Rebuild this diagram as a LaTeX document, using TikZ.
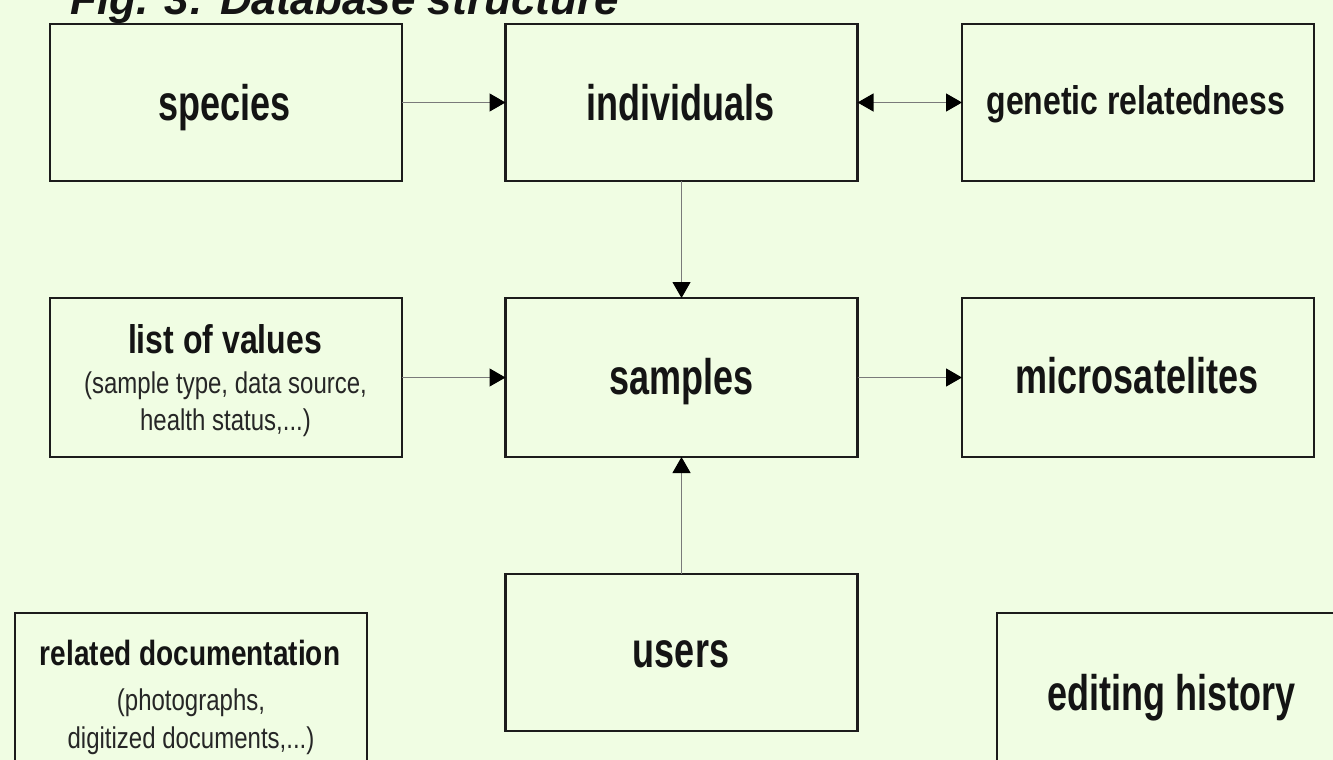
\documentclass[tikz,border=0pt]{standalone}
\usepackage{fontspec}
\setmainfont{Liberation Sans}
\newfontfamily\nfa[FakeStretch=0.72]{Liberation Sans}
\newfontfamily\nfb[FakeStretch=0.80]{Liberation Sans}
\usetikzlibrary{arrows.meta}
\definecolor{bg}{HTML}{F0FDE3}
\definecolor{edgec}{HTML}{1C1C1C}
\definecolor{connc}{HTML}{7A7A7A}
\tikzset{
 box/.style={draw=edgec, line width=2.4pt, minimum width=352pt, minimum height=157pt, inner sep=0pt, outer sep=0pt},
 bigtxt/.style={anchor=base, inner sep=0pt, font=\nfa\bfseries\fontsize{50}{60}\selectfont, text=black!92},
 midtxt/.style={anchor=base, inner sep=0pt, font=\nfb\bfseries\fontsize{40}{48}\selectfont, text=black!92},
 subtxt/.style={anchor=base, inner sep=0pt, font=\nfb\fontsize{30}{37}\selectfont, text=black!85},
 conn/.style={draw=connc, line width=1.2pt, -{Triangle[length=16pt,width=18pt,color=black]}},
 conn2/.style={draw=connc, line width=1.2pt, {Triangle[length=16pt,width=18pt,color=black]}-{Triangle[length=16pt,width=18pt,color=black]}},
}
\begin{document}
\begin{tikzpicture}[x=1pt,y=-1pt]
\useasboundingbox (0,0) rectangle (1333,760);
\fill[bg] (0,0) rectangle (1333,760);
\clip (0,0) rectangle (1333,760);

\node[anchor=base west, inner sep=0pt, font=\bfseries\itshape\fontsize{44}{50}\selectfont, text=black!92] (title) at (70,15) {Fig. 3: Database structure};

% boxes
\node[box] (species) at (226,102.5) {};
\node[box] (indiv) at (681.5,102.5) {};
\node[box] (genetic) at (1138,102.5) {};
\node[box, minimum height=159pt] (values) at (226,377.5) {};
\node[box, minimum height=159pt] (samples) at (681.5,377.5) {};
\node[box, minimum height=159pt] (micro) at (1138,377.5) {};
\node[box] (users) at (681.5,652.5) {};
\node[box, minimum height=162pt] (docs) at (191,694) {};
\node[box, minimum height=162pt] (history) at (1173,694) {};

% texts
\node[bigtxt] (tspecies) at (224.5,120) {species};
\node[bigtxt] (tindiv) at (680.5,120) {individuals};
\node[midtxt] (tgenetic) at (1136,114.5) {genetic relatedness};
\node[midtxt] (tvalues) at (225,353) {list of values};
\node[subtxt] (tvalues1) at (225.5,393) {(sample type, data source,};
\node[subtxt] (tvalues2) at (225.5,430) {health status,...)};
\node[bigtxt] (tsamples) at (681.5,394) {samples};
\node[bigtxt] (tmicro) at (1137,393) {microsatelites};
\node[bigtxt] (tusers) at (681,667) {users};
\node[midtxt, font=\nfb\bfseries\fontsize{35}{42}\selectfont] (tdocs) at (190,665) {related documentation};
\node[subtxt] (tdocs1) at (191,710) {(photographs,};
\node[subtxt] (tdocs2) at (191,748) {digitized documents,...)};
\node[bigtxt] (thistory) at (1171.5,710) {editing history};

% connectors
\draw[conn] (species.east) -- (indiv.west);
\draw[conn2] (indiv.east) -- (genetic.west);
\draw[conn] (indiv.south) -- (samples.north);
\draw[conn] (values.east) -- (samples.west);
\draw[conn] (samples.east) -- (micro.west);
\draw[conn] (users.north) -- (samples.south);
\end{tikzpicture}
\end{document}
